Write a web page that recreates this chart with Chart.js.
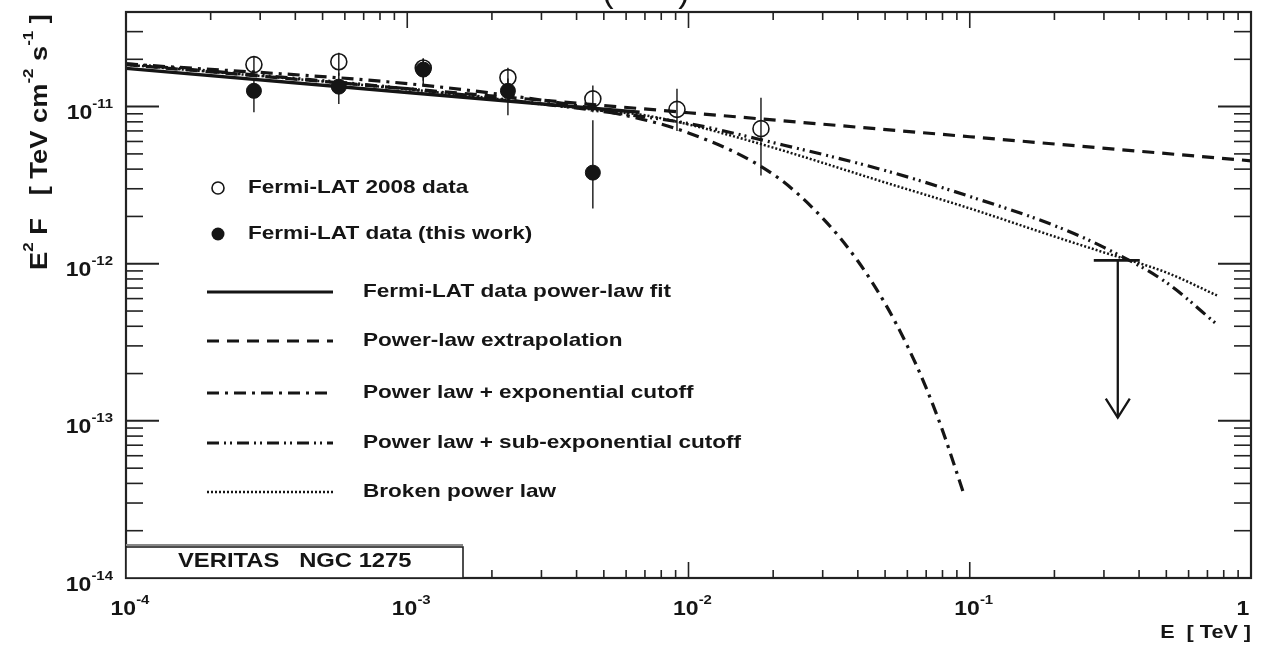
<!DOCTYPE html>
<html><head><meta charset="utf-8">
<script src="https://cdn.jsdelivr.net/npm/chart.js@4.4.0/dist/chart.umd.min.js"></script>
<style>html,body{margin:0;padding:0;background:#fff;}#wrap{position:relative;width:1274px;height:645px;}</style>
</head><body><div id="wrap"><canvas id="c"></canvas></div>
<script>
// ---- data (E in TeV, E^2 F in TeV cm^-2 s^-1) ----
const energyOpen = [2.85e-4, 5.71e-4, 1.14e-3, 2.28e-3, 4.57e-3, 9.1e-3, 1.81e-2];
const fluxOpen   = [1.85e-11, 1.93e-11, 1.76e-11, 1.53e-11, 1.12e-11, 9.6e-12, 7.24e-12];
const openLow    = [1.64e-11, 1.57e-11, 1.46e-11, 1.26e-11, 9.2e-12, 7.0e-12, 3.64e-12];
const openHigh   = [2.08e-11, 2.20e-11, 2.02e-11, 1.77e-11, 1.36e-11, 1.30e-11, 1.14e-11];

const energyFilled = [2.85e-4, 5.71e-4, 1.14e-3, 2.28e-3, 4.57e-3];
const fluxFilled   = [1.26e-11, 1.34e-11, 1.72e-11, 1.26e-11, 3.8e-12];
const filledLow    = [9.2e-12, 1.04e-11, 1.36e-11, 8.8e-12, 2.25e-12];
const filledHigh   = [1.51e-11, 1.64e-11, 2.02e-11, 1.51e-11, 8.2e-12];

const ulEnergy = [0.336];
const ulFlux = [1.05e-12];
const ulArrowEnd = [1.05e-13];

const plFitE = [1e-4, 1e-3, 6.7e-3];
const plFitF = [1.75e-11, 1.23e-11, 9.2e-12];
const plExtE = [1e-4, 1e-3, 1e-2, 1e-1, 1];
const plExtF = [1.85e-11, 1.30e-11, 9.14e-12, 6.43e-12, 4.52e-12];
const expCutE = [1e-4, 1e-3, 3e-3, 5e-3, 1e-2, 2e-2, 3e-2, 4e-2, 5e-2, 6e-2, 7e-2, 8e-2, 9.46e-2];
const expCutF = [1.87e-11, 1.40e-11, 1.10e-11, 9.4e-12, 6.8e-12, 3.71e-12, 1.95e-12, 1.04e-12, 5.58e-13, 3.0e-13, 1.62e-13, 8.7e-14, 3.56e-14];
const subExpE = [1e-4, 1e-3, 3e-3, 5e-3, 1e-2, 2e-2, 5e-2, 0.1, 0.2, 0.3, 0.5, 0.757];
const subExpF = [1.87e-11, 1.30e-11, 1.04e-11, 9.3e-12, 7.8e-12, 5.9e-12, 3.92e-12, 2.68e-12, 1.75e-12, 1.27e-12, 7.6e-13, 4.11e-13];
const brokenE = [1e-4, 1e-3, 3e-3, 5e-3, 7e-3, 1e-2, 2e-2, 5e-2, 0.1, 0.2, 0.3, 0.5, 0.757];
const brokenF = [1.85e-11, 1.29e-11, 1.04e-11, 9.4e-12, 8.8e-12, 7.7e-12, 5.48e-12, 3.29e-12, 2.25e-12, 1.49e-12, 1.18e-12, 8.8e-13, 6.28e-13];

const xMajorTicks = [1e-4, 1e-3, 1e-2, 1e-1, 1];
const xTickBase = ['10', '10', '10', '10', '1'];
const xTickExp = ['-4', '-3', '-2', '-1', ''];
const yMajorTicks = [1e-14, 1e-13, 1e-12, 1e-11];
const yTickExp = ['-14', '-13', '-12', '-11'];

const legendLabels = ['Fermi-LAT 2008 data', 'Fermi-LAT data (this work)', 'Fermi-LAT data power-law fit',
  'Power-law extrapolation', 'Power law + exponential cutoff', 'Power law + sub-exponential cutoff', 'Broken power law'];
const boxLabel = 'VERITAS   NGC 1275';

// ---- helpers ----
const FONT = '"Liberation Sans", Arial, Helvetica, sans-serif';
const INK = '#151515';
const pts = (xs, ys) => xs.map((v, i) => ({x: v, y: ys[i]}));

function richText(ctx, parts, x, y, align, size, sx, supRatio) {
  const supSize = Math.round(size * (supRatio || 0.62));
  let W = 0;
  const widths = parts.map(p => {
    ctx.font = 'bold ' + (p.sup ? supSize : size) + 'px ' + FONT;
    const w = ctx.measureText(p.t).width; W += w; return w;
  });
  ctx.save();
  ctx.translate(x, y);
  ctx.scale(sx, 1);
  let cx = align === 'right' ? -W : align === 'center' ? -W / 2 : 0;
  ctx.textBaseline = 'middle';
  ctx.textAlign = 'left';
  ctx.fillStyle = INK;
  parts.forEach((p, i) => {
    ctx.font = 'bold ' + (p.sup ? supSize : size) + 'px ' + FONT;
    ctx.fillText(p.t, cx, p.sup ? -size * 0.45 : 0);
    cx += widths[i];
  });
  ctx.restore();
}
function seg(ctx, x1, y1, x2, y2) { ctx.beginPath(); ctx.moveTo(x1, y1); ctx.lineTo(x2, y2); ctx.stroke(); }

const errorBarPlugin = {
  id: 'errbars',
  beforeDatasetsDraw(chart) {
    const {ctx, scales: {x, y}} = chart;
    ctx.save();
    ctx.strokeStyle = INK; ctx.lineWidth = 1.4;
    energyOpen.forEach((e, i) => seg(ctx, x.getPixelForValue(e), y.getPixelForValue(openLow[i]), x.getPixelForValue(e), y.getPixelForValue(openHigh[i])));
    energyFilled.forEach((e, i) => seg(ctx, x.getPixelForValue(e), y.getPixelForValue(filledLow[i]), x.getPixelForValue(e), y.getPixelForValue(filledHigh[i])));
    ulEnergy.forEach((e, i) => {
      const px = x.getPixelForValue(e), py = y.getPixelForValue(ulFlux[i]), pt = y.getPixelForValue(ulArrowEnd[i]);
      ctx.lineWidth = 2.8; seg(ctx, px - 24, py, px + 22, py);
      ctx.lineWidth = 2.3; seg(ctx, px, py, px, pt);
      ctx.beginPath(); ctx.moveTo(px - 12, pt - 19); ctx.lineTo(px, pt); ctx.lineTo(px + 12, pt - 19); ctx.stroke();
    });
    ctx.restore();
  }
};

const framePlugin = {
  id: 'frame',
  afterDatasetsDraw(chart) {
    const {ctx, chartArea: a, scales: {x, y}} = chart;
    ctx.save();
    ctx.strokeStyle = '#222';
    ctx.lineWidth = 1.6;
    xMajorTicks.forEach(d => {
      for (let m = 1; m <= 9; m++) {
        const v = m * d; if (v > 1.0001) break;
        const px = x.getPixelForValue(v);
        const len = m === 1 ? 16 : 8;
        seg(ctx, px, a.bottom, px, a.bottom - len);
        seg(ctx, px, a.top, px, a.top + len);
      }
    });
    yMajorTicks.forEach(d => {
      for (let m = 1; m <= 9; m++) {
        const v = m * d; if (v > 4.0e-11) break;
        const py = y.getPixelForValue(v);
        const len = m === 1 ? 33 : 17;
        ctx.lineWidth = m === 1 ? 2 : 1.6;
        seg(ctx, a.left, py, a.left + len, py);
        seg(ctx, a.right, py, a.right - len, py);
      }
    });
    ctx.lineWidth = 2.2;
    ctx.strokeRect(a.left, a.top, a.right - a.left, a.bottom - a.top);
    // tick labels
    xMajorTicks.forEach((v, i) => {
      const px = x.getPixelForValue(v);
      if (xTickExp[i]) richText(ctx, [{t: xTickBase[i]}, {t: xTickExp[i], sup: true}], px + 4, a.bottom + 31, 'center', 20, 1.15, 0.66);
      else richText(ctx, [{t: xTickBase[i]}], px - 8, a.bottom + 31, 'center', 20, 1.15);
    });
    yMajorTicks.forEach((v, i) => {
      const py = y.getPixelForValue(v);
      richText(ctx, [{t: '10'}, {t: yTickExp[i], sup: true}], a.left - 13, py + 7, 'right', 20, 1.15, 0.66);
    });
    // axis titles
    richText(ctx, [{t: 'E  [ TeV ]'}], a.right, 633, 'right', 18, 1.2);
    ctx.save();
    ctx.translate(40, 142);
    ctx.rotate(-Math.PI / 2);
    ctx.scale(1, 1.15);
    richText(ctx, [{t: 'E'}, {t: '2', sup: true}, {t: ' F   [ TeV cm'}, {t: '-2', sup: true}, {t: ' s'}, {t: '-1', sup: true}, {t: ' ]'}], 0, 0, 'center', 21, 1.3);
    ctx.restore();
    // cut-off title remnants
    ctx.fillStyle = INK; ctx.font = '34px ' + FONT; ctx.textBaseline = 'alphabetic'; ctx.textAlign = 'center';
    ctx.fillText('(', 608, 2); ctx.fillText(')', 684, 2);

    // legend
    const lx1 = 207, lx2 = 333, tx = 363;
    ctx.lineWidth = 1.6; ctx.strokeStyle = INK;
    ctx.beginPath(); ctx.arc(218, 188, 6, 0, 2 * Math.PI); ctx.stroke();
    richText(ctx, [{t: legendLabels[0]}], 248, 188, 'left', 18.5, 1.22);
    ctx.fillStyle = INK; ctx.beginPath(); ctx.arc(218, 234, 6.5, 0, 2 * Math.PI); ctx.fill();
    richText(ctx, [{t: legendLabels[1]}], 248, 234, 'left', 18.5, 1.22);
    const styles = [
      {w: 3.2, d: []}, {w: 3.2, d: [12, 8]}, {w: 3.2, d: [12, 6, 3, 6]}, {w: 3.2, d: [12, 5, 2, 4, 2, 5]}, {w: 2.5, d: [2, 2]}
    ];
    const ly = [292, 341, 393, 443, 492];
    styles.forEach((s, i) => {
      ctx.lineWidth = s.w; ctx.setLineDash(s.d);
      seg(ctx, lx1, ly[i], lx2, ly[i]);
      ctx.setLineDash([]);
      richText(ctx, [{t: legendLabels[i + 2]}], tx, ly[i], 'left', 18.5, 1.22);
    });
    // VERITAS box
    ctx.fillStyle = '#fff';
    ctx.fillRect(a.left, 547, 463 - a.left, a.bottom - 547);
    ctx.strokeStyle = '#222'; ctx.lineWidth = 1.6;
    ctx.strokeRect(a.left, 547, 463 - a.left, a.bottom - 547);
    ctx.strokeStyle = '#888'; ctx.lineWidth = 2;
    seg(ctx, a.left, 545, 463, 545);
    richText(ctx, [{t: boxLabel}], 178, 562, 'left', 19.5, 1.22);
    ctx.restore();
  }
};

const line = (data, w, dash, tension) => ({type: 'line', data, borderColor: INK, borderWidth: w, borderDash: dash,
  pointRadius: 0, fill: false, tension: 0, cubicInterpolationMode: tension ? 'monotone' : 'default', order: 5});

new Chart(document.getElementById('c'), {
  type: 'scatter',
  data: {datasets: [
    {label: legendLabels[1], data: pts(energyFilled, fluxFilled), pointRadius: 7.5, pointStyle: 'circle',
     backgroundColor: INK, borderColor: INK, borderWidth: 1, order: 1},
    {label: legendLabels[0], data: pts(energyOpen, fluxOpen), pointRadius: 8, pointStyle: 'circle',
     backgroundColor: 'rgba(0,0,0,0)', borderColor: INK, borderWidth: 1.6, order: 2},
    Object.assign(line(pts(plFitE, plFitF), 3.4, [], false), {label: legendLabels[2]}),
    Object.assign(line(pts(plExtE, plExtF), 3.2, [12, 8], false), {label: legendLabels[3]}),
    Object.assign(line(pts(expCutE, expCutF), 3.2, [12, 6, 3, 6], true), {label: legendLabels[4]}),
    Object.assign(line(pts(subExpE, subExpF), 3.2, [12, 5, 2, 4, 2, 5], true), {label: legendLabels[5]}),
    Object.assign(line(pts(brokenE, brokenF), 2.5, [2, 2], true), {label: legendLabels[6]})
  ]},
  options: {
    responsive: true, maintainAspectRatio: false, animation: false,
    layout: {padding: {left: 126, right: 23, top: 12, bottom: 67}},
    plugins: {legend: {display: false}, tooltip: {enabled: false}, title: {display: false}},
    scales: {
      x: {type: 'logarithmic', min: 1e-4, max: 1, display: false},
      y: {type: 'logarithmic', min: 1e-14, max: 4e-11, display: false}
    }
  },
  plugins: [errorBarPlugin, framePlugin]
});
</script>
</body></html>
